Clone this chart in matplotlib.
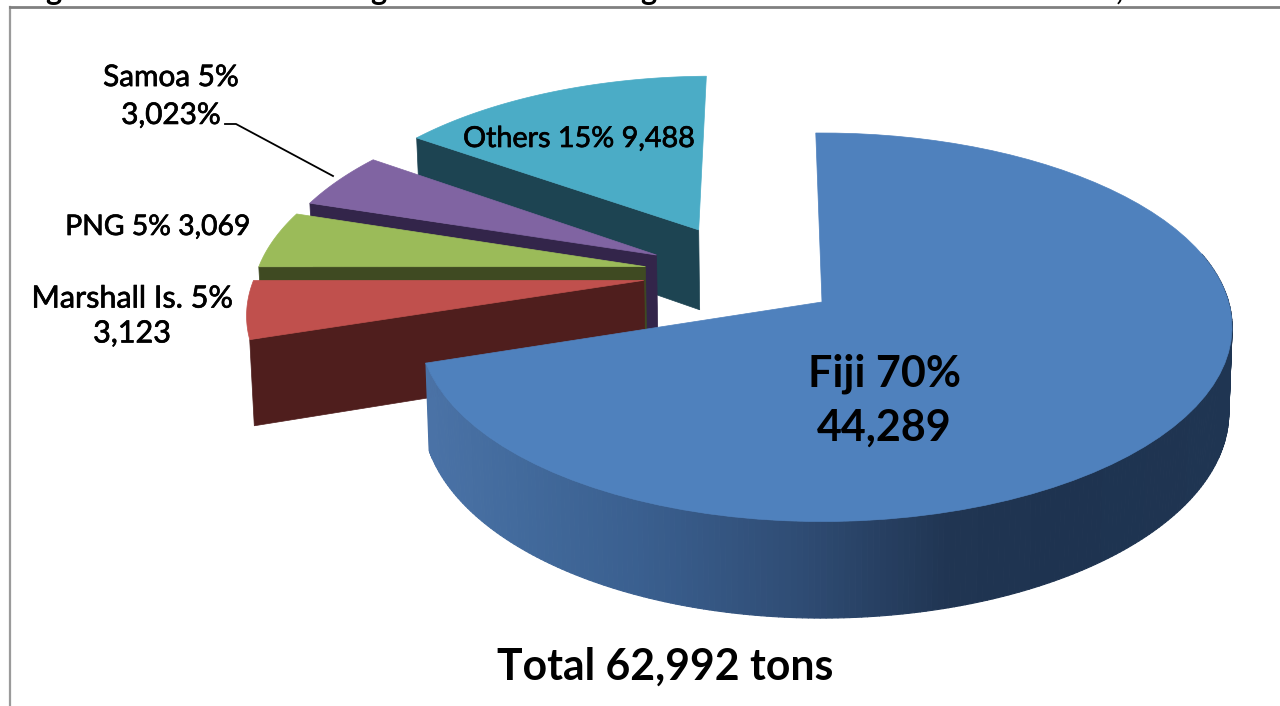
import numpy as np
import matplotlib
matplotlib.use("Agg")
import matplotlib.pyplot as plt
import matplotlib.patheffects as pe
from matplotlib.collections import PolyCollection
from matplotlib.colors import to_rgb

# slices, clockwise from the top
names = ['Fiji', 'Marshall Is.', 'PNG', 'Samoa', 'Others']
tons = [44289, 3123, 3069, 3023, 9488]
labels = ['Fiji 70%\n44,289', 'Marshall Is. 5%\n3,123', 'PNG 5% 3,069',
          'Samoa 5%\n3,023%', 'Others 15% 9,488']
total_label = 'Total 62,992 tons'

explode = [0.22, 0.275, 0.275, 0.275, 0.305]
lift = [0, -0.03, -0.02, -0.005, 0]
top_colors = ['#4F81BD', '#C0504D', '#9BBB59', '#8064A2', '#4BACC6']
wall_colors = ['#2f4c74', '#4f1e1d', '#3f4a22', '#33254a', '#1d4452']

# fake 3d view, in pixels
cx, cy = 822, 302
rx, ry = 403, 191
persp = 0.13
warp = 0.009
depth = 84
start = -1.0

plt.rcParams['font.family'] = ['Lato', 'DejaVu Sans']

fig = plt.figure(figsize=(12.8, 7.06), dpi=100)
ax = fig.add_axes([0, 0, 1, 1])
ax.set_xlim(0, 1280)
ax.set_ylim(706, 0)
ax.axis('off')

angles = np.array(tons) / sum(tons) * 360
starts = start + np.concatenate([[0], np.cumsum(angles)[:-1]])
ends = starts + angles
mids = np.radians((starts + ends) / 2)
off_u = np.array(explode) * np.sin(mids)
off_v = -np.array(explode) * np.cos(mids) + np.array(lift)


def project(u, v, low=False):
    # u, v are on the pie plane, radius 1; the first slice's tip sits at cx, cy
    u = np.asarray(u) - off_u[0]
    v = np.asarray(v) - off_v[0]
    s = 1 / (1 - persp * v)
    x = cx + rx * u * s * (1 + warp * u)
    y = cy + ry * v * s
    if low:
        x = cx + (x - cx) * 0.992
        y = y + depth * s
    return np.column_stack([x, y])


def rim(i, a, b, n=80):
    th = np.radians(np.linspace(a, b, n))
    return off_u[i] + np.sin(th), off_v[i] - np.cos(th)


# back to front
for i in [4, 3, 2, 1, 0]:
    if i > 0:
        th = np.radians(starts[i])
        eu = [off_u[i], off_u[i] + np.sin(th)]
        ev = [off_v[i], off_v[i] - np.cos(th)]
        wall = np.vstack([project(eu, ev), project(eu, ev, True)[::-1]])
        ax.fill(wall[:, 0], wall[:, 1], color=wall_colors[i], lw=0.5)
    else:
        # outer wall of the big slice, shaded along x
        u, v = rim(0, 75, ends[0], 240)
        up, lo = project(u, v), project(u, v, True)
        quads = [[up[k], up[k + 1], lo[k + 1], lo[k]] for k in range(len(u) - 1)]
        mx = (up[:-1, 0] + up[1:, 0]) / 2
        stops_x = [430, 520, 640, 800, 950, 1060, 1232]
        stops_c = np.array([to_rgb(c) for c in ['#4a72a6', '#426a9c', '#3a5f8f', '#2f4c74',
                                                '#203552', '#1e3350', '#1f3552']])
        cols = np.column_stack([np.interp(mx, stops_x, stops_c[:, c]) for c in range(3)])
        ax.add_collection(PolyCollection(quads, facecolors=cols, edgecolors=cols, linewidths=0.8))
    u, v = rim(i, starts[i], ends[i])
    top = project(np.r_[off_u[i], u], np.r_[off_v[i], v])
    ax.fill(top[:, 0], top[:, 1], color=top_colors[i], lw=0.5)

# labels, a thin stroke because the reference text is soft and heavy
heavy = [pe.withStroke(linewidth=0.5, foreground='black')]
ax.text(884, 401, labels[0], fontsize=31, fontweight='bold', ha='center', va='center',
        linespacing=1.41, color='black')
ax.text(132, 316, labels[1], fontsize=22, ha='center', va='center', linespacing=1.3,
        color='black', path_effects=heavy)
ax.text(158, 227, labels[2], fontsize=20.4, ha='center', va='center', color='black', path_effects=heavy)
ax.text(171, 96, labels[3], fontsize=21.4, ha='center', va='center', linespacing=1.43,
        color='black', path_effects=heavy)
ax.text(579, 139, labels[4], fontsize=20.7, ha='center', va='center', color='black', path_effects=heavy)
ax.text(665, 667, total_label, fontsize=30.8, fontweight='bold', ha='center', va='center', color='black')

# leader line for Samoa
ax.plot([225, 236, 333], [124, 124, 176], color='black', lw=1.3)

# frame of the pasted chart
ax.plot([9.5, 9.5], [706, 6.5], color='#9a9a9a', lw=1.6)
ax.plot([9.5, 1280], [6.5, 6.5], color='#808080', lw=2)

# the cut off title above it, only the descenders are left
for x, s in zip([53, 378, 648, 1119], ['g', 'g', 'g', ',']):
    ax.text(x, 0, s, fontsize=22, fontweight='bold', ha='center', va='baseline', color='black')

fig.savefig('out.png', dpi=100)
